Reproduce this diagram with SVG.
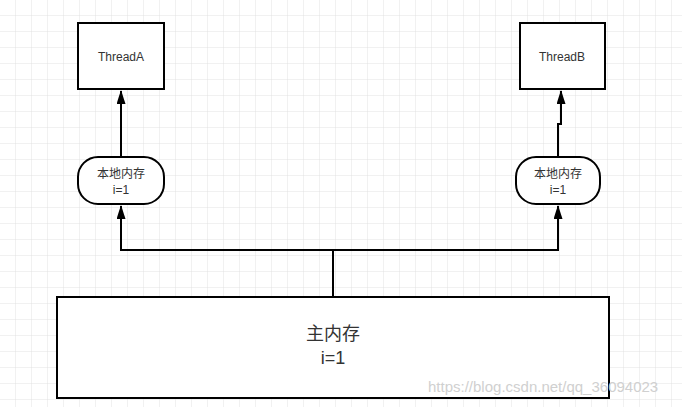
<svg xmlns="http://www.w3.org/2000/svg" width="682" height="407" viewBox="0 0 682 407">
<defs>
<pattern id="grid" width="16" height="16" patternUnits="userSpaceOnUse">
<path d="M16 0V16H0" fill="none" stroke="#e2e2e2" stroke-width="1"/>
</pattern>
<marker id="arr" markerWidth="14" markerHeight="9" refX="13" refY="4.5" orient="auto" markerUnits="userSpaceOnUse" viewBox="0 0 14 9">
<path d="M0 0L14 4.5L0 9Z" fill="#000"/>
</marker>
<style>
.n{fill:#fff;stroke:#000;stroke-width:2}
.t{font-family:"Liberation Sans","Noto Sans CJK SC",sans-serif;fill:#333;text-anchor:middle}
.c{fill:none;stroke:#000;stroke-width:2}
</style>
</defs>
<rect width="682" height="407" fill="#fff"/>
<rect width="682" height="407" fill="url(#grid)"/>
<g id="threadA"><rect class="n" x="78" y="23" width="86" height="66"/><text class="t" x="121" y="61" font-size="12">ThreadA</text></g>
<g id="threadB"><rect class="n" x="520" y="23" width="85" height="66"/><text class="t" x="562" y="61" font-size="12">ThreadB</text></g>
<g id="localA"><rect class="n" x="78" y="157" width="86" height="47" rx="20"/><text class="t" x="121" y="178" font-size="12">本地内存</text><text class="t" x="121" y="194" font-size="12">i=1</text></g>
<g id="localB"><rect class="n" x="516" y="157" width="84" height="47" rx="20"/><text class="t" x="558" y="178" font-size="12">本地内存</text><text class="t" x="558" y="194" font-size="12">i=1</text></g>
<g id="main"><rect class="n" x="57" y="297" width="552" height="101"/><text class="t" x="333" y="340" font-size="18">主内存</text><text class="t" x="333" y="364" font-size="18">i=1</text></g>
<g id="connectors">
<path class="c" d="M121 157V91" marker-end="url(#arr)"/>
<path class="c" d="M558 157V124H561V91" marker-end="url(#arr)"/>
<path class="c" d="M333 297V250H121V206" marker-end="url(#arr)"/>
<path class="c" d="M333 250H558V206" marker-end="url(#arr)"/>
</g>
<text x="428" y="392" font-size="15" font-family="Liberation Sans, sans-serif" fill="#d0d0d0">https://blog.csdn.net/qq_36094023</text>
</svg>
